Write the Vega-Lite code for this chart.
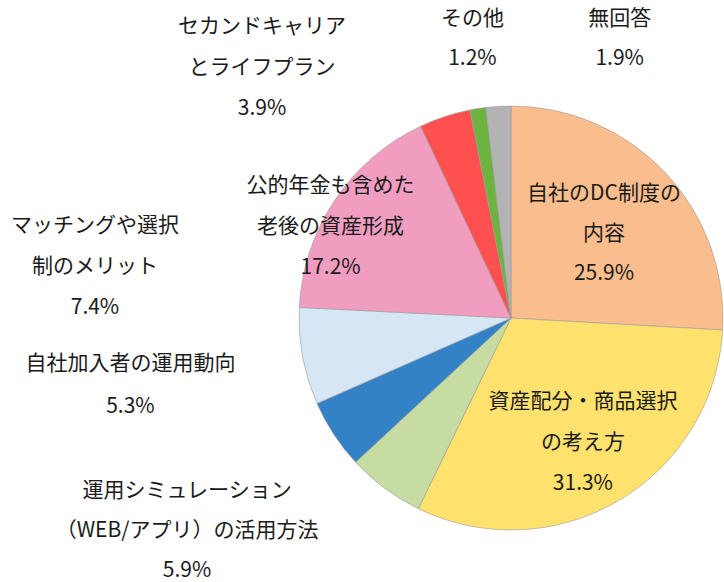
{
  "$schema": "https://vega.github.io/schema/vega-lite/v6.json",
  "width": 426,
  "height": 426,
  "autosize": {"type": "none"},
  "padding": {"left": 298, "top": 105, "right": 0, "bottom": 51},
  "background": "white",
  "config": {"view": {"stroke": null}, "text": {"font": "Noto Sans CJK JP"}},
  "data": {"values": [
    {"rank": 1, "cat": "自社のDC制度の内容", "name": "自社のDC制度の\n内容", "value": 25.9},
    {"rank": 2, "cat": "資産配分・商品選択の考え方", "name": "資産配分・商品選択\nの考え方", "value": 31.3},
    {"rank": 3, "cat": "運用シミュレーション（WEB/アプリ）の活用方法", "name": "運用シミュレーション\n（WEB/アプリ）の活用方法", "value": 5.9},
    {"rank": 4, "cat": "自社加入者の運用動向", "name": "自社加入者の運用動向", "value": 5.3},
    {"rank": 5, "cat": "マッチングや選択制のメリット", "name": "マッチングや選択\n制のメリット", "value": 7.4},
    {"rank": 6, "cat": "公的年金も含めた老後の資産形成", "name": "公的年金も含めた\n老後の資産形成", "value": 17.2},
    {"rank": 7, "cat": "セカンドキャリアとライフプラン", "name": "セカンドキャリア\nとライフプラン", "value": 3.9},
    {"rank": 8, "cat": "その他", "name": "その他", "value": 1.2},
    {"rank": 9, "cat": "無回答", "name": "無回答", "value": 1.9}
  ]},
  "transform": [
    {"calculate": "datum.name + '\\n' + format(datum.value, '.1f') + '%'", "as": "label"}
  ],
  "encoding": {
    "theta": {"field": "value", "type": "quantitative", "stack": true},
    "order": {"field": "rank", "type": "quantitative"}
  },
  "layer": [
    {
      "mark": {"type": "arc", "radius": 212, "stroke": "#9a9a9a", "strokeWidth": 0.6},
      "encoding": {
        "color": {
          "field": "cat", "type": "nominal", "legend": null,
          "scale": {
            "domain": ["自社のDC制度の内容", "資産配分・商品選択の考え方", "運用シミュレーション（WEB/アプリ）の活用方法", "自社加入者の運用動向", "マッチングや選択制のメリット", "公的年金も含めた老後の資産形成", "セカンドキャリアとライフプラン", "その他", "無回答"],
            "range": ["#F9BD8E", "#FFE26E", "#C6DCA2", "#3382C6", "#D6E6F5", "#F09DC0", "#FF5050", "#6DB33F", "#B3B3B3"]
          }
        }
      }
    },
    {
      "mark": {"type": "text", "radius": 128, "dy": -36, "lineBreak": "\n", "lineHeight": 40, "fontSize": 21, "color": "#1a1a1a"},
      "encoding": {"detail": {"field": "cat", "type": "nominal"}, "text": {"condition": {"test": "datum.rank === 1", "field": "label"}, "value": ""}}
    },
    {
      "mark": {"type": "text", "radius": 142, "dy": -38, "lineBreak": "\n", "lineHeight": 41, "fontSize": 21, "color": "#1a1a1a"},
      "encoding": {"detail": {"field": "cat", "type": "nominal"}, "text": {"condition": {"test": "datum.rank === 2", "field": "label"}, "value": ""}}
    },
    {
      "mark": {"type": "text", "radius": 240, "dx": -181, "dy": -20, "lineBreak": "\n", "lineHeight": 40, "fontSize": 21, "color": "#1a1a1a"},
      "encoding": {"detail": {"field": "cat", "type": "nominal"}, "text": {"condition": {"test": "datum.rank === 3", "field": "label"}, "value": ""}}
    },
    {
      "mark": {"type": "text", "radius": 240, "dx": -180, "dy": -86, "lineBreak": "\n", "lineHeight": 43, "fontSize": 21, "color": "#1a1a1a"},
      "encoding": {"detail": {"field": "cat", "type": "nominal"}, "text": {"condition": {"test": "datum.rank === 4", "field": "label"}, "value": ""}}
    },
    {
      "mark": {"type": "text", "radius": 240, "dx": -180, "dy": -135, "lineBreak": "\n", "lineHeight": 41, "fontSize": 21, "color": "#1a1a1a"},
      "encoding": {"detail": {"field": "cat", "type": "nominal"}, "text": {"condition": {"test": "datum.rank === 5", "field": "label"}, "value": ""}}
    },
    {
      "mark": {"type": "text", "radius": 204, "dx": -11, "dy": -18, "lineBreak": "\n", "lineHeight": 41, "fontSize": 21, "color": "#1a1a1a"},
      "encoding": {"detail": {"field": "cat", "type": "nominal"}, "text": {"condition": {"test": "datum.rank === 6", "field": "label"}, "value": ""}}
    },
    {
      "mark": {"type": "text", "radius": 240, "dx": -174, "dy": -63, "lineBreak": "\n", "lineHeight": 41, "fontSize": 21, "color": "#1a1a1a"},
      "encoding": {"detail": {"field": "cat", "type": "nominal"}, "text": {"condition": {"test": "datum.rank === 7", "field": "label"}, "value": ""}}
    },
    {
      "mark": {"type": "text", "radius": 240, "dx": -1, "dy": -62, "lineBreak": "\n", "lineHeight": 40, "fontSize": 21, "color": "#1a1a1a"},
      "encoding": {"detail": {"field": "cat", "type": "nominal"}, "text": {"condition": {"test": "datum.rank === 8", "field": "label"}, "value": ""}}
    },
    {
      "mark": {"type": "text", "radius": 240, "dx": 123, "dy": -59, "lineBreak": "\n", "lineHeight": 40, "fontSize": 21, "color": "#1a1a1a"},
      "encoding": {"detail": {"field": "cat", "type": "nominal"}, "text": {"condition": {"test": "datum.rank === 9", "field": "label"}, "value": ""}}
    }
  ]
}
